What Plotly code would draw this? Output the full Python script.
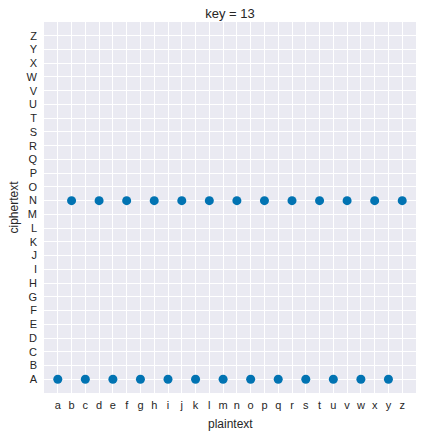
import plotly.graph_objects as go

plaintext_ticks = ["a", "b", "c", "d", "e", "f", "g", "h", "i", "j", "k", "l", "m",
                   "n", "o", "p", "q", "r", "s", "t", "u", "v", "w", "x", "y", "z"]
ciphertext_ticks = ["A", "B", "C", "D", "E", "F", "G", "H", "I", "J", "K", "L", "M",
                    "N", "O", "P", "Q", "R", "S", "T", "U", "V", "W", "X", "Y", "Z"]

plaintext = ["a", "b", "c", "d", "e", "f", "g", "h", "i", "j", "k", "l", "m",
             "n", "o", "p", "q", "r", "s", "t", "u", "v", "w", "x", "y", "z"]
ciphertext = ["A", "N", "A", "N", "A", "N", "A", "N", "A", "N", "A", "N", "A",
              "N", "A", "N", "A", "N", "A", "N", "A", "N", "A", "N", "A", "N"]

font = "Liberation Sans, Arial, sans-serif"
txt = "#262626"

W, H = 424, 438
ML, MR, MT, MB = 44, 8, 22, 45
PW, PH = W - ML - MR, H - MT - MB

fig = go.Figure(go.Scatter(
    x=plaintext, y=ciphertext, mode="markers",
    marker=dict(color="#0173B2", size=9, line=dict(width=0)),
))

fig.update_layout(
    width=W, height=H,
    margin=dict(l=ML, r=MR, t=MT, b=MB),
    paper_bgcolor="white", plot_bgcolor="#EAEAF2",
    showlegend=False,
    font=dict(family=font, color=txt, size=11),
    title=dict(text="key = 13", x=0.5, xref="paper", y=1 - 13 / H,
               yref="container", xanchor="center", yanchor="middle",
               font=dict(size=13, color=txt, family=font)),
    annotations=[
        dict(text="plaintext", x=0.5, xref="paper", y=-31 / PH, yref="paper",
             xanchor="center", yanchor="middle",
             showarrow=False, font=dict(size=12, color=txt)),
        dict(text="ciphertext", x=-31 / PW, xref="paper", y=0.5, yref="paper",
             xanchor="center", yanchor="middle",
             showarrow=False, textangle=-90, font=dict(size=12, color=txt)),
    ],
)

fig.update_xaxes(type="category", categoryorder="array", categoryarray=plaintext_ticks,
                 tickvals=plaintext_ticks, range=[-1, 26],
                 showgrid=True, gridcolor="white", gridwidth=1, zeroline=False,
                 showline=False, ticks="", ticklabelstandoff=4,
                 tickfont=dict(size=11, color=txt))
fig.update_yaxes(type="category", categoryorder="array", categoryarray=ciphertext_ticks,
                 tickvals=ciphertext_ticks, range=[-1, 26],
                 showgrid=True, gridcolor="white", gridwidth=1, zeroline=False,
                 showline=False, ticks="", ticklabelstandoff=6,
                 tickfont=dict(size=11, color=txt))

fig.write_html("out.html", config={"displayModeBar": False},
               post_script="document.body.style.margin='0';")
